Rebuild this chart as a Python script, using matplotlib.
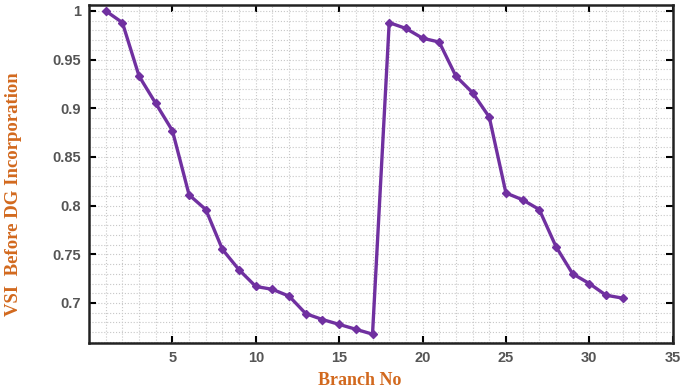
import matplotlib
matplotlib.use("Agg")
import matplotlib.pyplot as plt
from matplotlib.ticker import MultipleLocator

branch = list(range(1, 33))
vsi = [1.000, 0.988, 0.933, 0.905, 0.877, 0.811, 0.796, 0.755, 0.734, 0.717,
       0.714, 0.707, 0.689, 0.683, 0.678, 0.673, 0.668, 0.988, 0.982, 0.972,
       0.968, 0.933, 0.916, 0.891, 0.813, 0.806, 0.796, 0.758, 0.730, 0.720,
       0.708, 0.705]
xticks = [5, 10, 15, 20, 25, 30, 35]
yticks = [0.7, 0.75, 0.8, 0.85, 0.9, 0.95, 1]
ytick_labels = ["0.7", "0.75", "0.8", "0.85", "0.9", "0.95", "1"]

fig = plt.figure(figsize=(6.85, 3.91), dpi=100)
ax = fig.add_axes([0.130, 0.123, 0.852, 0.864])

purple = "#7030A0"
ax.plot(branch, vsi, color=purple, lw=2.4, marker="D", ms=4.5,
        markerfacecolor=purple, markeredgecolor=purple, zorder=3)

ax.set_xlim(0, 35)
ax.set_ylim(0.659, 1.006)
ax.set_xticks(xticks)
ax.set_yticks(yticks)
ax.set_yticklabels(ytick_labels)
ax.xaxis.set_minor_locator(MultipleLocator(1))
ax.yaxis.set_minor_locator(MultipleLocator(0.01))
ax.grid(which="both", color="#c8c8c8", linestyle=":", linewidth=0.8)
ax.tick_params(which="major", direction="in", top=True, right=True,
               length=5, width=1.5, labelsize=10.5, labelcolor="#555555",
               pad=6)
ax.tick_params(which="minor", length=0)
for lab in ax.get_xticklabels() + ax.get_yticklabels():
    lab.set_fontfamily("Liberation Sans")
    lab.set_fontweight("bold")
for s in ax.spines.values():
    s.set_linewidth(1.8)
    s.set_color("#222222")

lab_color = "#D2691E"
ax.set_xlabel("Branch No", fontfamily="Liberation Serif", fontweight="bold",
              fontsize=13, color=lab_color, labelpad=5)
ax.set_ylabel("VSI  Before DG Incorporation", fontfamily="Liberation Serif",
              fontweight="bold", fontsize=13.5, color=lab_color, labelpad=12)
ax.xaxis.set_label_coords(0.464, -0.085)
ax.yaxis.set_label_coords(-0.115, 0.44)

fig.savefig("out.png", dpi=100)
